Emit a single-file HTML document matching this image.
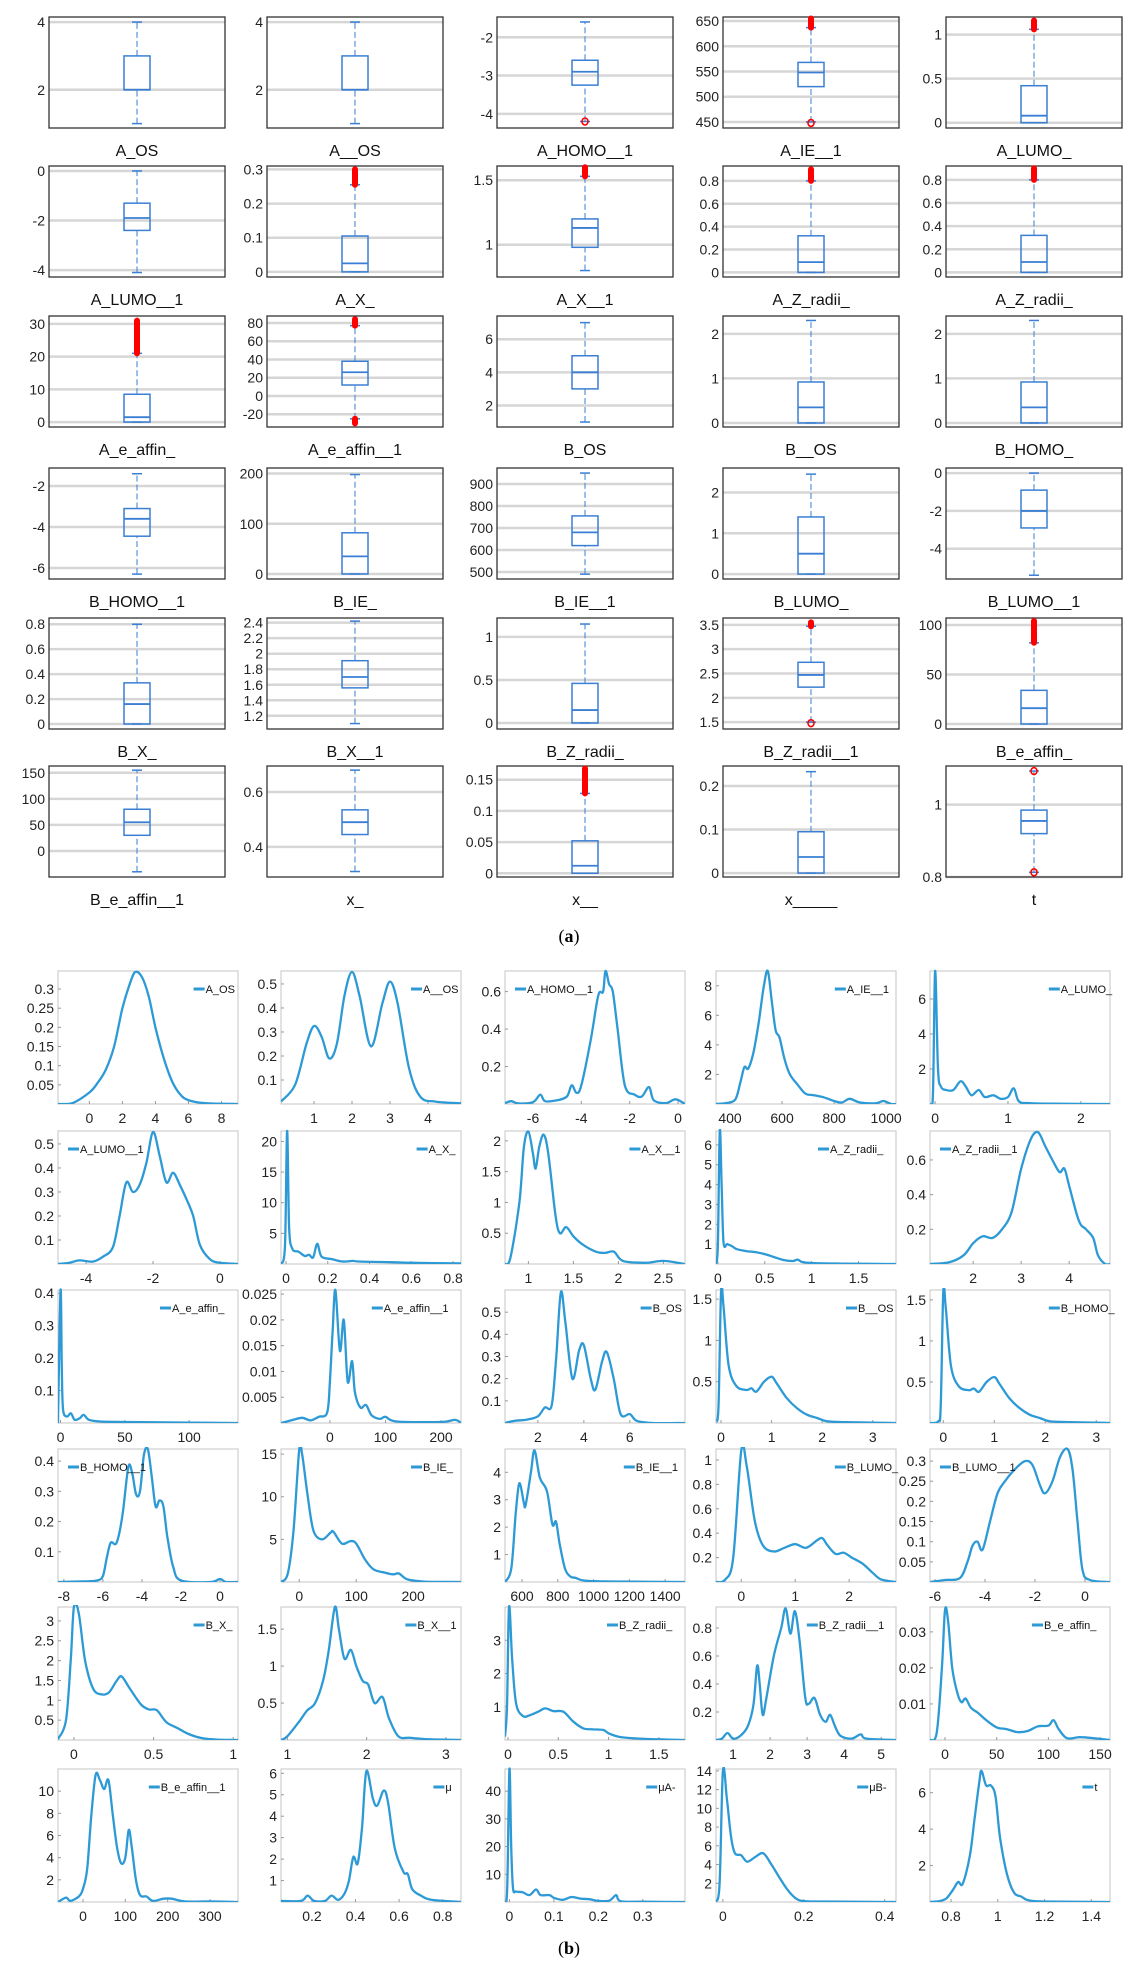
<!DOCTYPE html>
<html><head><meta charset="utf-8"><style>
html,body{margin:0;padding:0;background:#fff;}
svg{display:block;font-family:"Liberation Sans Narrow","Liberation Sans",sans-serif;}
</style></head><body>
<svg id="fig" width="1129" height="1970" viewBox="0 0 1129 1970" xmlns="http://www.w3.org/2000/svg">
<text x="569" y="942" text-anchor="middle" font-family="Liberation Serif, serif" font-size="18">(<tspan font-weight="bold">a</tspan>)</text>
<text x="569" y="1954" text-anchor="middle" font-family="Liberation Serif, serif" font-size="18">(<tspan font-weight="bold">b</tspan>)</text>
</svg>
<script>
// ---------- Panel (a): box plots ----------
const boxNames=["A_OS","A__OS","A_HOMO__1","A_IE__1","A_LUMO_","A_LUMO__1","A_X_","A_X__1","A_Z_radii_","A_Z_radii_","A_e_affin_","A_e_affin__1","B_OS","B__OS","B_HOMO_","B_HOMO__1","B_IE_","B_IE__1","B_LUMO_","B_LUMO__1","B_X_","B_X__1","B_Z_radii_","B_Z_radii__1","B_e_affin_","B_e_affin__1","x_","x__","x_____","t"];
const boxYMin=[0.87,0.87,-4.37,438,-0.06,-4.28,-0.015,0.75,-0.04,-0.04,-1.5,-34,0.7,-0.09,-0.09,-6.54,-10,468,-0.12,-5.6,-0.04,1.03,-0.07,1.36,-5,-50,0.29,-0.006,-0.009,0.8];
const boxYMax=[4.15,4.15,-1.47,658,1.2,0.2,0.31,1.61,0.93,0.92,32.4,87.6,7.4,2.4,2.4,-1.12,211,973,2.6,0.27,0.85,2.46,1.22,3.64,107,163,0.695,0.172,0.246,1.107];
const boxTicks=[[2,4],[2,4],[-4,-3,-2],[450,500,550,600,650],[0,0.5,1],[-4,-2,0],[0,0.1,0.2,0.3],[1,1.5],[0,0.2,0.4,0.6,0.8],[0,0.2,0.4,0.6,0.8],[0,10,20,30],[-20,0,20,40,60,80],[2,4,6],[0,1,2],[0,1,2],[-6,-4,-2],[0,100,200],[500,600,700,800,900],[0,1,2],[-4,-2,0],[0,0.2,0.4,0.6,0.8],[1.2,1.4,1.6,1.8,2,2.2,2.4],[0,0.5,1],[1.5,2,2.5,3,3.5],[0,50,100],[0,50,100,150],[0.4,0.6],[0,0.05,0.1,0.15],[0,0.1,0.2],[0.8,1]];
const boxLo=[1,1,-4.2,450,0,-4.1,0,0.8,0,0,0,-25,1,0,0,-6.3,0,490,0,-5.4,0,1.1,0,1.5,0,-40,0.31,0,0,0.813];
const boxQ1=[2,2,-3.25,520,0,-2.4,0,0.98,0,0,0,12,3,0,0,-4.45,0,620,0,-2.9,0,1.56,0,2.22,0,30,0.445,0,0,0.92];
const boxMed=[2,2,-2.9,548,0.08,-1.9,0.025,1.13,0.09,0.09,1.5,26,4,0.35,0.35,-3.6,35,680,0.5,-2,0.16,1.7,0.15,2.47,16,55,0.49,0.012,0.037,0.955];
const boxQ3=[3,3,-2.6,568,0.42,-1.3,0.105,1.2,0.32,0.32,8.5,38,5,0.92,0.92,-3.1,82,755,1.4,-0.9,0.33,1.91,0.46,2.73,34,80,0.535,0.052,0.095,0.985];
const boxHi=[4,4,-1.6,637,1.06,0,0.255,1.53,0.8,0.8,21,77,7,2.3,2.3,-1.4,198,950,2.45,0,0.8,2.42,1.15,3.47,82,155,0.68,0.128,0.233,1.093];
const boxOutBands=[[],[],[],[[637,655]],[[1.06,1.16]],[],[[0.255,0.3]],[[1.53,1.6]],[[0.8,0.9]],[[0.8,0.9]],[[21,31]],[[77,84],[-30,-25]],[],[],[],[],[],[],[],[],[],[],[],[[3.47,3.55]],[[82,104]],[],[],[[0.128,0.168]],[],[]];
const boxOutPts=[[],[],[-4.2],[448],[],[],[],[],[],[],[],[],[],[],[],[],[],[],[],[],[],[],[],[1.48],[],[],[],[],[],[0.813,1.093]];

// ---------- Panel (b): density plots ----------
const denNames=["A_OS","A__OS","A_HOMO__1","A_IE__1","A_LUMO_","A_LUMO__1","A_X_","A_X__1","A_Z_radii_","A_Z_radii__1","A_e_affin_","A_e_affin__1","B_OS","B__OS","B_HOMO_","B_HOMO__1","B_IE_","B_IE__1","B_LUMO_","B_LUMO__1","B_X_","B_X__1","B_Z_radii_","B_Z_radii__1","B_e_affin_","B_e_affin__1","\u03bc","\u03bcA-","\u03bcB-","t"];
const denLegendLeft=[0,0,1,0,0,1,0,0,0,1,0,0,0,0,0,1,0,0,0,1,0,0,0,0,0,0,0,0,0,0];
const denXMin=[-1.9,0.13,-7.16,346,-0.07,-4.84,-0.024,0.74,-0.02,1.1,-2,-88,0.57,-0.1,-0.26,-8.3,-32,505,-0.47,-6.2,-0.1,0.92,-0.03,0.54,-14.5,-59,0.058,-0.01,-0.017,0.71];
const denXMax=[9,4.87,0.29,1038,2.4,0.54,0.838,2.74,1.9,4.85,138,236,8.4,3.46,3.27,0.92,284,1511,2.87,1.0,1.03,3.19,1.76,5.4,159.6,366,0.884,0.395,0.428,1.48];
const denYMax=[0.347,0.554,0.71,9,7.6,0.554,21.7,2.16,6.7,0.767,0.41,0.0258,0.6,1.61,1.62,0.44,15.6,4.85,1.09,0.33,3.35,1.8,4.0,0.95,0.0369,12,6.2,48,14.2,7.3];
const denXTicks=[[0,2,4,6,8],[1,2,3,4],[-6,-4,-2,0],[400,600,800,1000],[0,1,2],[-4,-2,0],[0,0.2,0.4,0.6,0.8],[1,1.5,2,2.5],[0,0.5,1,1.5],[2,3,4],[0,50,100],[0,100,200],[2,4,6],[0,1,2,3],[0,1,2,3],[-8,-6,-4,-2,0],[0,100,200],[600,800,1000,1200,1400],[0,1,2],[-6,-4,-2,0],[0,0.5,1],[1,2,3],[0,0.5,1,1.5],[1,2,3,4,5],[0,50,100,150],[0,100,200,300],[0.2,0.4,0.6,0.8],[0,0.1,0.2,0.3],[0,0.2,0.4],[0.8,1,1.2,1.4]];
const denYTicks=[[0.05,0.1,0.15,0.2,0.25,0.3],[0.1,0.2,0.3,0.4,0.5],[0.2,0.4,0.6],[2,4,6,8],[2,4,6],[0.1,0.2,0.3,0.4,0.5],[5,10,15,20],[0.5,1,1.5,2],[1,2,3,4,5,6],[0.2,0.4,0.6],[0.1,0.2,0.3,0.4],[0.005,0.01,0.015,0.02,0.025],[0.1,0.2,0.3,0.4,0.5],[0.5,1,1.5],[0.5,1,1.5],[0.1,0.2,0.3,0.4],[5,10,15],[1,2,3,4],[0.2,0.4,0.6,0.8,1],[0.05,0.1,0.15,0.2,0.25,0.3],[0.5,1,1.5,2,2.5,3],[0.5,1,1.5],[1,2,3],[0.2,0.4,0.6,0.8],[0.01,0.02,0.03],[2,4,6,8,10],[1,2,3,4,5,6],[10,20,30,40],[2,4,6,8,10,12,14],[2,4,6]];
const denX=[
[-1.9,-1,0,0.5,1,1.5,2,2.5,2.8,3.2,3.6,4,4.5,5,5.5,6,7,9],
[0.13,0.5,0.8,1.0,1.2,1.4,1.6,1.8,2.0,2.2,2.5,2.8,3.0,3.2,3.5,3.8,4.2,4.87],
[-7.16,-6.9,-6.6,-6,-5.7,-5.5,-5,-4.6,-4.4,-4.2,-4,-3.6,-3.3,-3.1,-3,-2.85,-2.7,-2.5,-2.2,-1.8,-1.5,-1.2,-1,-0.5,-0.1,0.29],
[346,380,420,440,455,470,490,510,530,545,560,575,590,610,630,660,690,720,760,800,830,860,900,960,990,1020,1038],
[-0.07,-0.03,0,0.04,0.08,0.15,0.25,0.35,0.42,0.5,0.6,0.68,0.8,0.9,1.0,1.08,1.15,1.3,1.6,2.4],
[-4.84,-4.5,-4.2,-3.8,-3.5,-3.2,-3.0,-2.8,-2.6,-2.4,-2.2,-2.0,-1.8,-1.6,-1.4,-1.2,-1.0,-0.8,-0.6,-0.3,0,0.54],
[-0.024,-0.005,0.005,0.015,0.03,0.06,0.09,0.11,0.13,0.15,0.17,0.22,0.27,0.32,0.35,0.5,0.6,0.838],
[0.74,0.8,0.9,0.95,1.0,1.05,1.08,1.12,1.17,1.22,1.3,1.35,1.42,1.5,1.6,1.75,1.85,1.95,2.05,2.3,2.5,2.74],
[-0.02,0,0.02,0.04,0.06,0.1,0.15,0.2,0.3,0.4,0.5,0.6,0.7,0.8,0.85,0.9,1.0,1.3,1.9],
[1.1,1.5,1.8,2.0,2.2,2.4,2.6,2.8,3.0,3.2,3.35,3.5,3.65,3.8,3.9,4.0,4.2,4.35,4.5,4.6,4.75,4.85],
[-2,0,1,2,5,8,11,15,18,22,30,50,138],
[-88,-70,-50,-35,-20,-5,0,5,10,18,25,32,40,45,55,65,75,90,100,120,200,225,236],
[0.57,1,1.5,2,2.3,2.6,2.8,3,3.2,3.5,3.8,4,4.3,4.5,4.8,5,5.3,5.6,6,6.3,7,8.4],
[-0.1,-0.05,0,0.05,0.15,0.3,0.5,0.6,0.7,0.85,1.0,1.1,1.3,1.5,1.7,1.9,2.1,2.5,3.0,3.46],
[-0.26,-0.1,-0.05,0,0.05,0.15,0.3,0.5,0.6,0.7,0.85,1.0,1.1,1.3,1.5,1.7,1.9,2.1,2.5,3.0,3.27],
[-8.3,-7,-6.3,-6,-5.8,-5.6,-5.3,-5,-4.7,-4.5,-4.3,-4.1,-3.9,-3.7,-3.5,-3.3,-3.1,-2.9,-2.7,-2.4,-2,-0.5,0,0.3,0.92],
[-32,-20,-10,0,5,15,25,40,55,60,75,90,100,115,130,150,165,175,190,220,284],
[505,540,565,585,610,620,650,670,700,740,770,790,810,840,870,900,950,1100,1511],
[-0.47,-0.3,-0.15,0,0.1,0.25,0.4,0.6,0.8,1,1.2,1.4,1.5,1.6,1.75,1.9,2.05,2.25,2.45,2.6,2.87],
[-6.2,-5.6,-5,-4.7,-4.5,-4.3,-4.1,-3.8,-3.5,-3.2,-2.8,-2.4,-2.1,-1.8,-1.6,-1.3,-1.0,-0.7,-0.5,-0.3,-0.1,0.2,1.0],
[-0.1,-0.05,-0.02,0,0.03,0.07,0.12,0.17,0.22,0.27,0.3,0.35,0.42,0.47,0.52,0.58,0.65,0.72,0.8,0.9,1.03],
[0.92,1.0,1.15,1.25,1.35,1.45,1.52,1.6,1.65,1.72,1.8,1.87,1.95,2.02,2.1,2.2,2.28,2.4,2.55,2.8,3.19],
[-0.03,-0.01,0.01,0.04,0.08,0.15,0.22,0.3,0.37,0.45,0.55,0.65,0.75,0.85,0.95,1.0,1.1,1.25,1.5,1.76],
[0.54,0.7,0.85,1.0,1.2,1.4,1.55,1.65,1.72,1.8,1.9,2.1,2.3,2.42,2.55,2.67,2.8,2.95,3.05,3.2,3.35,3.5,3.62,3.75,3.9,4.2,4.45,4.6,5.4],
[-14.5,-8,-3,0,3,7,12,16,20,25,32,40,50,60,70,80,90,100,105,110,118,130,140,159.6],
[-59,-40,-30,-10,0,10,20,30,40,50,60,70,80,90,100,108,115,125,135,150,165,190,210,240,300,366],
[0.058,0.15,0.18,0.21,0.26,0.29,0.32,0.35,0.37,0.39,0.41,0.43,0.45,0.48,0.5,0.53,0.55,0.58,0.62,0.64,0.66,0.7,0.75,0.884],
[-0.01,-0.005,0,0.004,0.008,0.015,0.03,0.045,0.06,0.07,0.09,0.1,0.12,0.14,0.16,0.18,0.2,0.225,0.24,0.25,0.3,0.395],
[-0.017,-0.008,0,0.01,0.02,0.03,0.045,0.06,0.08,0.1,0.12,0.14,0.16,0.18,0.2,0.25,0.428],
[0.71,0.75,0.78,0.81,0.83,0.85,0.88,0.9,0.92,0.93,0.95,0.97,0.99,1.01,1.04,1.07,1.1,1.13,1.2,1.48]];
const denY=[
[0,0.003,0.03,0.055,0.09,0.15,0.25,0.32,0.345,0.33,0.28,0.2,0.12,0.06,0.025,0.01,0.002,0],
[0.01,0.08,0.25,0.325,0.28,0.19,0.25,0.45,0.55,0.45,0.24,0.42,0.51,0.42,0.15,0.03,0.01,0.003],
[0.005,0.015,0.003,0.01,0.05,0.015,0.02,0.04,0.1,0.06,0.1,0.35,0.58,0.6,0.71,0.64,0.6,0.4,0.1,0.05,0.04,0.09,0.02,0.005,0.025,0],
[0,0.05,0.3,1.5,2.5,2.4,3.5,5.5,8,9,7,5,4.5,3,2,1.3,0.7,0.6,0.45,0.2,0.1,0.35,0.1,0.05,0.2,0,0],
[0,0.5,7.6,2,1,0.8,0.8,1.3,1.0,0.5,0.8,0.4,0.5,0.3,0.4,0.9,0.15,0.05,0.02,0],
[0,0.005,0.015,0.01,0.03,0.07,0.2,0.34,0.3,0.33,0.42,0.55,0.45,0.34,0.38,0.33,0.27,0.2,0.08,0.02,0.005,0],
[0,3,21.7,6,2.5,2,1.3,1.5,1.1,3.3,1.2,0.8,0.4,0.5,0.4,0.3,0.2,0.1],
[0,0.1,1,1.9,2.15,1.8,1.55,1.9,2.1,1.8,0.8,0.5,0.6,0.45,0.32,0.2,0.18,0.2,0.05,0.02,0.05,0],
[0,1,6.7,4,1.1,1.0,0.9,0.75,0.65,0.6,0.5,0.35,0.2,0.15,0.22,0.1,0.05,0.02,0],
[0,0.01,0.05,0.12,0.16,0.15,0.2,0.3,0.55,0.72,0.76,0.68,0.6,0.53,0.55,0.45,0.25,0.2,0.15,0.05,0,0],
[0,0.41,0.15,0.04,0.02,0.03,0.01,0.015,0.025,0.01,0.005,0.003,0],
[0,0.0005,0.001,0.0005,0.0012,0.002,0.008,0.018,0.0258,0.014,0.02,0.008,0.012,0.006,0.003,0.0035,0.0015,0.0008,0.0012,0.0003,0.0002,0.0006,0],
[0,0.01,0.015,0.03,0.07,0.08,0.3,0.59,0.45,0.2,0.33,0.35,0.2,0.15,0.28,0.32,0.2,0.04,0.04,0.01,0,0],
[0.02,0.2,1.6,1.4,0.7,0.45,0.4,0.42,0.38,0.5,0.56,0.48,0.3,0.18,0.1,0.06,0.02,0.01,0.005,0],
[0,0.02,0.2,1.6,1.4,0.7,0.45,0.4,0.42,0.38,0.5,0.56,0.48,0.3,0.18,0.1,0.06,0.02,0.01,0.005,0],
[0,0.002,0.005,0.02,0.08,0.13,0.13,0.22,0.38,0.36,0.29,0.3,0.42,0.44,0.35,0.25,0.27,0.25,0.15,0.05,0.005,0,0.01,0,0],
[0,1,6,15.5,15,10,6,5,5.8,5.9,4.5,4.8,4.5,2.7,1.5,1.1,0.9,1.0,0.3,0.05,0],
[0,0.5,2.5,3.6,2.9,2.8,4.0,4.8,3.8,3.3,2.1,2.2,1.4,0.5,0.2,0.15,0.05,0.02,0],
[0,0.02,0.2,1.08,0.95,0.5,0.3,0.25,0.28,0.31,0.28,0.34,0.36,0.3,0.23,0.24,0.2,0.15,0.07,0.02,0],
[0,0.005,0.01,0.05,0.09,0.1,0.08,0.15,0.22,0.25,0.28,0.3,0.29,0.24,0.22,0.25,0.31,0.33,0.28,0.15,0.03,0.005,0],
[0.02,0.5,2,3.35,3.2,2,1.3,1.15,1.2,1.5,1.6,1.3,0.9,0.77,0.75,0.45,0.3,0.15,0.05,0.01,0],
[0,0.05,0.25,0.4,0.5,0.8,1.2,1.8,1.5,1.1,1.22,1.0,0.8,0.75,0.5,0.58,0.3,0.05,0.03,0.01,0],
[0.1,1,4.0,2.5,1.1,0.72,0.75,0.85,0.95,0.87,0.85,0.55,0.35,0.32,0.3,0.2,0.1,0.05,0.02,0],
[0,0.01,0.05,0.01,0.03,0.1,0.25,0.53,0.4,0.18,0.3,0.6,0.8,0.94,0.76,0.92,0.7,0.3,0.26,0.3,0.18,0.13,0.18,0.1,0.03,0.01,0.04,0.01,0],
[0,0.002,0.02,0.036,0.033,0.02,0.013,0.0105,0.0115,0.009,0.0075,0.0055,0.0035,0.003,0.0022,0.0025,0.0038,0.004,0.0055,0.003,0.0005,0.0008,0.0006,0],
[0,0.4,0.1,0.5,1.2,3,8,11.5,11,10.2,11,8,5,3.5,4,6.5,5,2,0.6,0.5,0.1,0.3,0.3,0.05,0.05,0],
[0.05,0.05,0.3,0.05,0.05,0.3,0.1,0.4,1,2.1,1.8,3.5,6.1,4.8,4.5,5.2,4.6,2.5,1.4,1.3,0.6,0.3,0.1,0],
[0,5,48,20,5,3.8,3.5,2.5,4.5,2.5,2.5,1.5,0.8,1.8,1.2,1.0,0.4,0.5,2.5,0.3,0.1,0],
[0,2,14,11,7,5.2,5,4.3,4.8,5.2,4,2.6,1.3,0.4,0.1,0.05,0],
[0,0.05,0.2,0.7,1.1,1.0,2.5,4.5,6.5,7.2,6.4,6.4,5.8,3.5,1.5,0.5,0.3,0.1,0.03,0]];

const NS="http://www.w3.org/2000/svg";
const svg=document.getElementById('fig');
function mk(tag,attrs,parent){const e=document.createElementNS(NS,tag);for(const k in attrs)e.setAttribute(k,attrs[k]);(parent||svg).appendChild(e);return e;}
function fmt(v){return String(+v.toFixed(4));}

// layout
const bCols=[49,267,497,723,946], bW=176, bRows=[17,166,316,468,618,766], bH=111;
const dCols=[58,281,505,716,930], dW=180, dRows=[971,1131,1290,1449,1607,1769], dH=133;

boxNames.forEach((name,i)=>{
  const x0=bCols[i%5], y0=bRows[Math.floor(i/5)];
  const g=mk('g',{});
  
  
  const ys=v=>y0+bH-(v-boxYMin[i])/(boxYMax[i]-boxYMin[i])*bH;
  mk('rect',{x:x0,y:y0,width:bW,height:bH,fill:'#fff'},g);
  boxTicks[i].forEach(t=>{
    const y=ys(t);
    const gl=mk('line',{x1:x0,x2:x0+bW,y1:y,y2:y,stroke:'#d6d6d6','stroke-width':2.5},g);
    
    
    const tl=mk('text',{x:x0-4,y:y+5,'text-anchor':'end','font-size':14,fill:'#222'},g);
    tl.textContent=fmt(t);
    
    
  });
  const fr=mk('rect',{x:x0,y:y0,width:bW,height:bH,fill:'none',stroke:'#333','stroke-width':1.3},g);
  
  
  const cx=x0+bW/2, bw=26, col='#3a7fd4';
  const w1=mk('line',{x1:cx,x2:cx,y1:ys(boxLo[i]),y2:ys(boxQ1[i]),stroke:col,'stroke-width':1,'stroke-dasharray':'6,3'},g);
  
  
  const w2=mk('line',{x1:cx,x2:cx,y1:ys(boxQ3[i]),y2:ys(boxHi[i]),stroke:col,'stroke-width':1,'stroke-dasharray':'6,3'},g);
  
  
  [boxLo[i],boxHi[i]].forEach(v=>{const c=mk('line',{x1:cx-5,x2:cx+5,y1:ys(v),y2:ys(v),stroke:col,'stroke-width':1.5},g);
    
    });
  const bx=mk('rect',{x:cx-bw/2,y:ys(boxQ3[i]),width:bw,height:Math.max(0.5,ys(boxQ1[i])-ys(boxQ3[i])),fill:'none',stroke:col,'stroke-width':1.5},g);
  
  
  const md=mk('line',{x1:cx-bw/2,x2:cx+bw/2,y1:ys(boxMed[i]),y2:ys(boxMed[i]),stroke:col,'stroke-width':1.8},g);
  
  
  boxOutBands[i].forEach(b=>{const o=mk('line',{x1:cx,x2:cx,y1:ys(b[0]),y2:ys(b[1]),stroke:'#f00','stroke-width':6,'stroke-linecap':'round'},g);
    
    });
  boxOutPts[i].forEach(v=>{const o=mk('ellipse',{cx:cx,cy:ys(v),rx:3,ry:3.5,fill:'none',stroke:'#f00','stroke-width':1.6},g);
    
    });
  const lb=mk('text',{x:cx,y:y0+bH+28,'text-anchor':'middle','font-size':16,fill:'#111'},g);
  lb.textContent=name;
  
  
});

function smoothPath(pts){
  let d='M'+pts[0][0].toFixed(1)+','+pts[0][1].toFixed(1);
  for(let k=0;k<pts.length-1;k++){
    const p0=pts[k-1]||pts[k],p1=pts[k],p2=pts[k+1],p3=pts[k+2]||p2;
    const c1=[p1[0]+(p2[0]-p0[0])/6,p1[1]+(p2[1]-p0[1])/6];
    const c2=[p2[0]-(p3[0]-p1[0])/6,p2[1]-(p3[1]-p1[1])/6];
    d+='C'+c1[0].toFixed(1)+','+c1[1].toFixed(1)+' '+c2[0].toFixed(1)+','+c2[1].toFixed(1)+' '+p2[0].toFixed(1)+','+p2[1].toFixed(1);
  }
  return d;
}

denNames.forEach((name,i)=>{
  const x0=dCols[i%5], y0=dRows[Math.floor(i/5)];
  const g=mk('g',{});
  
  
  const xs=v=>x0+(v-denXMin[i])/(denXMax[i]-denXMin[i])*dW;
  const ys=v=>y0+dH-v/denYMax[i]*dH;
  const clip=mk('clipPath',{id:'dc'+i},g);
  mk('rect',{x:x0,y:y0-2,width:dW,height:dH+2},clip);
  const fr=mk('rect',{x:x0,y:y0,width:dW,height:dH,fill:'none',stroke:'#c4c4c4','stroke-width':1},g);
  
  
  denXTicks[i].forEach(t=>{
    const x=xs(t);
    mk('line',{x1:x,x2:x,y1:y0+dH,y2:y0+dH-3,stroke:'#999','stroke-width':1},g);
    const tl=mk('text',{x:x,y:y0+dH+19,'text-anchor':'middle','font-size':14,fill:'#222'},g);
    tl.textContent=String(t);
    
    
  });
  denYTicks[i].forEach(t=>{
    const y=ys(t);
    mk('line',{x1:x0,x2:x0+3,y1:y,y2:y,stroke:'#999','stroke-width':1},g);
    const tl=mk('text',{x:x0-4,y:y+5,'text-anchor':'end','font-size':14,fill:'#222'},g);
    tl.textContent=fmt(t);
    
    
  });
  const pts=denX[i].map((xv,k)=>[xs(xv),ys(denY[i][k])]);
  const p=mk('path',{d:smoothPath(pts),fill:'none',stroke:'#2d9ad6','stroke-width':2.3,'stroke-linejoin':'round','clip-path':'url(#dc'+i+')'},g);
  
  
  const leg=mk('g',{},g);
  
  
  const tw=name.length*5.6;
  const lx=denLegendLeft[i]? x0+10 : x0+dW-tw-22;
  const ly=y0+18;
  mk('line',{x1:lx,x2:lx+11,y1:ly,y2:ly,stroke:'#2d9ad6','stroke-width':3},leg);
  const lt=mk('text',{x:lx+12,y:ly+4,'font-size':11,fill:'#111'},leg);
  lt.textContent=name;
});
</script>
</body></html>
